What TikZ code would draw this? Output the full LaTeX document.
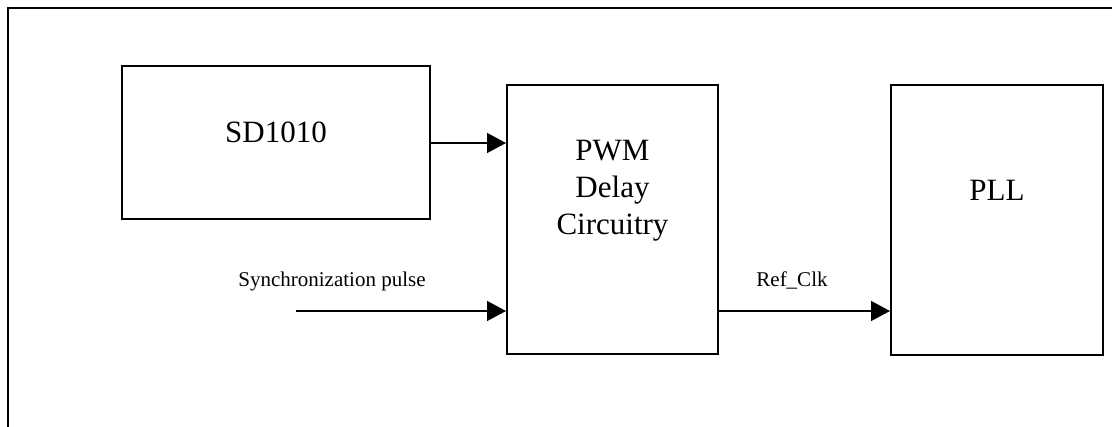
\documentclass[tikz,border=0pt]{standalone}
\usepackage{fontspec}
\setmainfont{Liberation Serif}
\usetikzlibrary{arrows.meta}
\begin{document}
\begin{tikzpicture}[x=1pt,y=-1pt,
  blockbox/.style={draw,line width=2pt,inner sep=0pt,minimum width=#1},
  bigtext/.style={anchor=base,inner sep=0pt,font=\fontsize{31}{37}\selectfont},
  smalltext/.style={anchor=base,inner sep=0pt,font=\fontsize{21}{25}\selectfont},
  sig/.style={line width=1.4pt,-{Triangle[length=19pt,width=20pt]}}]
\useasboundingbox (0,0) rectangle (1112,427);
\draw[line width=2pt] (8,427) -- (8,8.5) -- (1112,8.5);
\node[blockbox=308pt,minimum height=153pt] (sd) at (276,142.5) {};
\node[blockbox=211pt,minimum height=269pt] (pwm) at (612.5,219.5) {};
\node[blockbox=212pt,minimum height=270pt] (pll) at (997,220) {};
\node[bigtext] (sdt) at (276,143) {SD1010};
\node[bigtext] (pwm1) at (612.5,161) {PWM};
\node[bigtext] (pwm2) at (612.5,198) {Delay};
\node[bigtext] (pwm3) at (612.5,235) {Circuitry};
\node[bigtext] (pllt) at (997,201) {PLL};
\node[smalltext] (synct) at (332,287) {Synchronization pulse};
\node[smalltext] (refct) at (792,287) {Ref\_Clk};
\coordinate (syncs) at (296,311);
\draw[sig] (sd.east |- 0,143) -- (pwm.west |- 0,143);
\draw[sig] (syncs) -- (pwm.west |- syncs);
\draw[sig] (pwm.east |- syncs) -- (pll.west |- syncs);
\end{tikzpicture}
\end{document}
